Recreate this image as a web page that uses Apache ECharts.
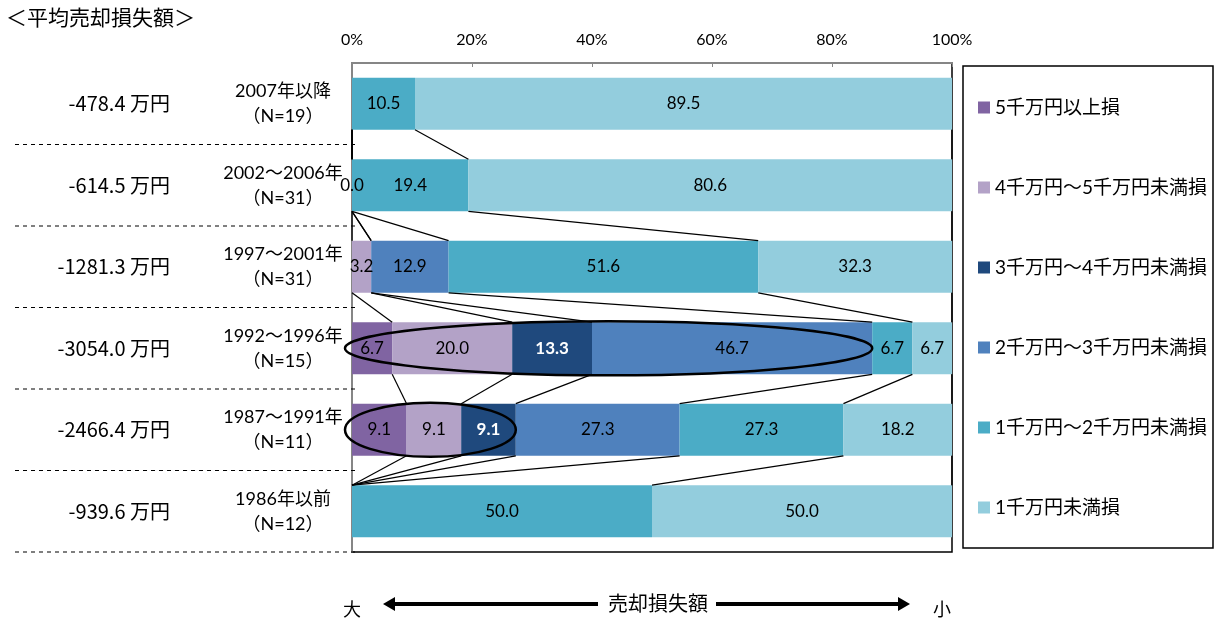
<!DOCTYPE html>
<html>
<head>
<meta charset="utf-8">
<title>平均売却損失額</title>
<script src="https://cdn.jsdelivr.net/npm/echarts@6/dist/echarts.min.js"></script>
<style>
  html, body { margin: 0; padding: 0; background: #fff; }
  #main { width: 1216px; height: 620px; }
</style>
</head>
<body>
<div id="main"></div>
<script>
// 年代区分（上から順）
const periods = ["2007年以降", "2002～2006年", "1997～2001年", "1992～1996年", "1987～1991年", "1986年以前"];
const sampleN = [19, 31, 31, 15, 11, 12];
const avgLoss = ["-478.4", "-614.5", "-1281.3", "-3054.0", "-2466.4", "-939.6"];

const lossNames = [
  "5千万円以上損",
  "4千万円～5千万円未満損",
  "3千万円～4千万円未満損",
  "2千万円～3千万円未満損",
  "1千万円～2千万円未満損",
  "1千万円未満損",
];
const lossColors = ["#8064a2", "#b3a2c7", "#1f497d", "#4f81bd", "#4bacc6", "#93cddd"];

// 構成比（%）、null は該当なし
const over50 = [null, null, null, 6.7, 9.1, null];
const from40to50 = [null, null, 3.2, 20.0, 9.1, null];
const from30to40 = [null, null, null, 13.3, 9.1, null];
const from20to30 = [null, 0.0, 12.9, 46.7, 27.3, null];
const from10to20 = [10.5, 19.4, 51.6, 6.7, 27.3, 50.0];
const under10 = [89.5, 80.6, 32.3, 6.7, 18.2, 50.0];

// 楕円で囲む行と、囲む最後の区分
const circledRows = [3, 4];
const circledUpTo = [3, 2];

const seriesData = [over50, from40to50, from30to40, from20to30, from10to20, under10];
const BAR_RATIO = 0.64;
const cjkFont = "Lato, 'Noto Sans CJK JP'";

function cumulative(row) {
  let s = 0;
  return seriesData.map((d) => Math.min((s += d[row] || 0), 100));
}

// 区分線（行と行の境界をつなぐ線）
const connectorData = [];
for (let r = 0; r < periods.length - 1; r++) {
  const a = cumulative(r);
  const b = cumulative(r + 1);
  for (let k = 0; k < a.length; k++) {
    connectorData.push([a[k], r, b[k]]);
  }
}

const ellipseData = circledRows.map((r, i) => [cumulative(r)[circledUpTo[i]], r]);

const barSeries = lossNames.map((name, i) => ({
  name: name,
  type: "bar",
  stack: "total",
  barWidth: BAR_RATIO * 100 + "%",
  itemStyle: { color: lossColors[i] },
  label: {
    show: true,
    position: "inside",
    fontFamily: "Lato",
    fontSize: 17,
    color: i === 2 ? "#fff" : "#000",
    fontWeight: i === 2 ? "bold" : "normal",
    formatter: (p) => p.value.toFixed(1),
  },
  data: seriesData[i],
}));

const chart = echarts.init(document.getElementById("main"));

const option = {
  animation: false,
  grid: {
    left: 352,
    right: 264,
    top: 63,
    bottom: 68,
    show: true,
    borderColor: "#000",
    borderWidth: 1.5,
  },
  legend: {
    orient: "vertical",
    left: 973,
    top: 93,
    itemWidth: 12,
    itemHeight: 12,
    itemGap: 61,
    icon: "rect",
    selectedMode: false,
    data: lossNames,
    textStyle: { fontFamily: cjkFont, fontSize: 19, lineHeight: 19, color: "#000" },
  },
  xAxis: {
    type: "value",
    position: "top",
    min: 0,
    max: 100,
    interval: 20,
    axisLine: { show: true, lineStyle: { color: "#868686", width: 2 } },
    axisTick: { show: true, inside: true, length: 4, lineStyle: { color: "#868686" } },
    splitLine: { show: false },
    axisLabel: {
      formatter: "{value}%",
      fontFamily: "Lato",
      fontSize: 16,
      color: "#000",
      margin: 15,
    },
  },
  yAxis: [
    {
      type: "category",
      data: periods,
      inverse: true,
      axisLine: { lineStyle: { color: "#868686", width: 2 } },
      axisTick: { show: false },
      axisLabel: {
        formatter: (v, i) => v + "\n（N=" + sampleN[i] + "）",
        align: "center",
        margin: 69,
        fontFamily: cjkFont,
        fontSize: 18,
        lineHeight: 25,
        color: "#000",
      },
    },
    {
      type: "category",
      data: periods,
      inverse: true,
      position: "left",
      offset: 182,
      axisLine: { show: false },
      axisTick: { show: false },
      axisLabel: {
        formatter: (v, i) => avgLoss[i] + " 万円",
        margin: 0,
        fontFamily: "'Noto Sans CJK JP'",
        fontSize: 20,
        color: "#000",
      },
    },
  ],
  series: barSeries.concat([
    {
      // 区分線
      type: "custom",
      silent: true,
      z: 3,
      data: connectorData,
      renderItem: function (params, api) {
        const half = (api.size([0, 1])[1] * BAR_RATIO) / 2;
        const p1 = api.coord([api.value(0), api.value(1)]);
        const p2 = api.coord([api.value(2), api.value(1) + 1]);
        return {
          type: "line",
          shape: { x1: p1[0], y1: p1[1] + half, x2: p2[0], y2: p2[1] - half },
          style: { stroke: "#000", lineWidth: 1.2 },
        };
      },
    },
    {
      // 楕円
      type: "custom",
      silent: true,
      z: 4,
      data: ellipseData,
      renderItem: function (params, api) {
        const half = (api.size([0, 1])[1] * BAR_RATIO) / 2;
        const left = api.coord([0, api.value(1)])[0] - 7;
        const p = api.coord([api.value(0), api.value(1)]);
        return {
          type: "ellipse",
          shape: { cx: (left + p[0]) / 2, cy: p[1], rx: (p[0] - left) / 2, ry: half + 1 },
          style: { fill: null, stroke: "#000", lineWidth: 2.5 },
        };
      },
    },
    {
      // 左側の点線
      type: "custom",
      silent: true,
      clip: false,
      data: periods.map((p, i) => [0, i]),
      renderItem: function (params, api) {
        const band = api.size([0, 1])[1];
        const y = api.coord([0, api.value(1)])[1] + band / 2;
        return {
          type: "line",
          shape: { x1: 15, y1: y, x2: 358, y2: y },
          style: { stroke: "#000", lineWidth: 1, lineDash: [4, 4] },
        };
      },
    },
  ]),
  graphic: [
    {
      type: "text",
      left: 6,
      top: 7,
      style: { text: "＜平均売却損失額＞", font: "21px 'Noto Sans CJK JP'", fill: "#000" },
    },
    {
      // 凡例の枠
      type: "rect",
      shape: { x: 963, y: 66, width: 250, height: 482 },
      style: { fill: null, stroke: "#000", lineWidth: 1.5 },
    },
    // 下の矢印
    {
      type: "text",
      x: 352,
      y: 609,
      style: { text: "大", font: "18px 'Noto Sans CJK JP'", fill: "#000", align: "center", verticalAlign: "middle" },
    },
    {
      type: "text",
      x: 942,
      y: 609,
      style: { text: "小", font: "18px 'Noto Sans CJK JP'", fill: "#000", align: "center", verticalAlign: "middle" },
    },
    {
      type: "text",
      x: 658,
      y: 603,
      style: { text: "売却損失額", font: "20px 'Noto Sans CJK JP'", fill: "#000", align: "center", verticalAlign: "middle" },
    },
    {
      type: "line",
      shape: { x1: 390, y1: 604, x2: 598, y2: 604 },
      style: { stroke: "#000", lineWidth: 4 },
    },
    {
      type: "line",
      shape: { x1: 716, y1: 604, x2: 902, y2: 604 },
      style: { stroke: "#000", lineWidth: 4 },
    },
    {
      type: "polygon",
      shape: { points: [[383, 604], [395, 597], [395, 611]] },
      style: { fill: "#000" },
    },
    {
      type: "polygon",
      shape: { points: [[910, 604], [898, 597], [898, 611]] },
      style: { fill: "#000" },
    },
  ],
};

chart.setOption(option);
</script>
</body>
</html>
